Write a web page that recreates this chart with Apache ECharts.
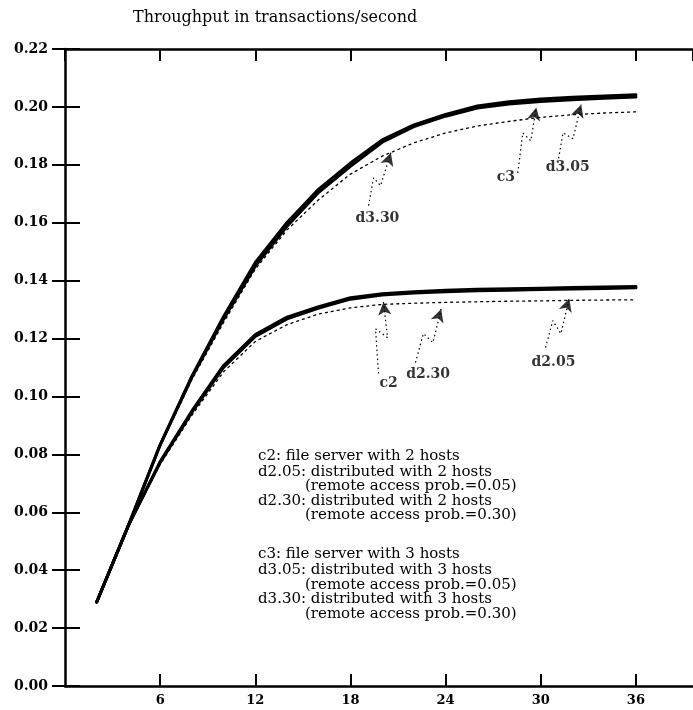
<!DOCTYPE html>
<html><head><meta charset="utf-8">
<script src="https://cdn.jsdelivr.net/npm/echarts@6/dist/echarts.min.js"></script>
<style>html,body{margin:0;padding:0;background:#fff}#c{width:693px;height:710px}</style>
</head><body><div id="c"></div>
<script>
// ---- data ----
const xValues = [2,4,6,8,10,12,14,16,18,20,22,24,26,28,30,32,34,36];
const c3    = [0.029,0.0555,0.0832,0.1066,0.1267,0.1450,0.1588,0.1705,0.1795,0.1878,0.1932,0.1968,0.1996,0.2010,0.2019,0.2025,0.2030,0.2034];
const d3_05 = [0.029,0.0555,0.0834,0.1070,0.1276,0.1463,0.1601,0.1716,0.1806,0.1886,0.1938,0.1974,0.2003,0.2018,0.2027,0.2033,0.2038,0.2042];
const d3_30 = [0.029,0.0553,0.0828,0.1058,0.1255,0.1440,0.1575,0.1680,0.1768,0.1830,0.1876,0.1910,0.1934,0.1950,0.1964,0.1973,0.1979,0.1983];
const c2    = [0.029,0.0555,0.0775,0.0950,0.1107,0.1214,0.1274,0.1310,0.1341,0.1355,0.1362,0.1367,0.1370,0.1372,0.1374,0.1376,0.1378,0.1380];
const d2_05 = [0.029,0.0555,0.0772,0.0945,0.1100,0.1207,0.1268,0.1305,0.1336,0.1350,0.1357,0.1362,0.1365,0.1367,0.1369,0.1371,0.1373,0.1375];
const d2_30 = [0.029,0.0553,0.0765,0.0935,0.1085,0.1190,0.1248,0.1285,0.1306,0.1318,0.1322,0.1325,0.1327,0.1329,0.1330,0.1332,0.1333,0.1334];

const xTickLabels = ['6','12','18','24','30','36'];
const yTickLabels = ['0.00','0.02','0.04','0.06','0.08','0.10','0.12','0.14','0.16','0.18','0.20','0.22'];

const titleText = 'Throughput in transactions/second';

// callout labels and leader paths (data coordinates)
const calloutNames = ['d3.30','c3','d3.05','c2','d2.30','d2.05'];
const calloutLabelPos = [[19.7,0.1614],[27.8,0.1755],[31.7,0.1790],[20.4,0.1045],[22.9,0.1076],[30.8,0.1117]];
const leaderD3_30 = [[19.14,0.1659],[19.46,0.1755],[19.90,0.1728],[20.55,0.1842]];
const leaderC3    = [[28.55,0.1772],[28.87,0.1910],[29.37,0.1883],[29.72,0.1998]];
const leaderD3_05 = [[31.08,0.1807],[31.40,0.1910],[32.03,0.1890],[32.55,0.2008]];
const leaderC2    = [[19.77,0.1079],[19.58,0.1234],[20.34,0.1203],[20.08,0.1326]];
const leaderD2_30 = [[22.10,0.1117],[22.60,0.1217],[23.20,0.1186],[23.72,0.1302]];
const leaderD2_05 = [[30.30,0.1169],[30.76,0.1262],[31.27,0.1217],[31.80,0.1338]];

const legendLines = [
  'c2: file server with 2 hosts',
  'd2.05: distributed with 2 hosts',
  '(remote access prob.=0.05)',
  'd2.30: distributed with 2 hosts',
  '(remote access prob.=0.30)',
  'c3: file server with 3 hosts',
  'd3.05: distributed with 3 hosts',
  '(remote access prob.=0.05)',
  'd3.30: distributed with 3 hosts',
  '(remote access prob.=0.30)'
];

// ---- chart ----
const FONT = 'DejaVu Serif';
const chart = echarts.init(document.getElementById('c'), null, {renderer: 'canvas'});
const pairs = ys => xValues.map((x, i) => [x, ys[i]]);

const curves = [
  {name: 'c3', ys: c3, w: 3, dash: 'solid'},
  {name: 'd3.05', ys: d3_05, w: 3, dash: 'solid'},
  {name: 'd3.30', ys: d3_30, w: 1.3, dash: [2, 4]},
  {name: 'c2', ys: c2, w: 3, dash: 'solid'},
  {name: 'd2.05', ys: d2_05, w: 3, dash: 'solid'},
  {name: 'd2.30', ys: d2_30, w: 1.3, dash: [2, 4]}
];
const leaders = [leaderD3_30, leaderC3, leaderD3_05, leaderC2, leaderD2_30, leaderD2_05];
const arrowTilt = [-18, -12, -18, 6, -18, -18];

const series = [];
curves.forEach(c => series.push({
  type: 'line', name: c.name, data: pairs(c.ys), symbol: 'none', silent: true,
  lineStyle: {color: '#000', width: c.w, type: c.dash, cap: 'round', join: 'round'}, z: 3
}));
leaders.forEach(l => series.push({
  type: 'line', data: l, symbol: 'none', silent: true,
  lineStyle: {color: '#000', width: 1.2, type: [1.5, 3]}, z: 4
}));
series.push({
  type: 'scatter', silent: true, z: 5,
  data: leaders.map((l, i) => ({value: l[l.length - 1], symbolRotate: arrowTilt[i]})),
  symbol: 'arrow', symbolSize: [10, 13], itemStyle: {color: '#000'}
});
series.push({
  type: 'scatter', silent: true, z: 6,
  data: calloutLabelPos.map((p, i) => ({value: p, name: calloutNames[i]})),
  symbolSize: 1, itemStyle: {color: 'rgba(0,0,0,0)'},
  label: {show: true, position: 'inside', formatter: p => p.name, color: '#000',
          fontFamily: FONT, fontWeight: 'bold', fontSize: 14}
});

const legendX = [258,258,305,258,305,258,258,305,258,305];
const legendY = [458,474,488,503,517,556,572,587,601,616];
const graphic = [{
  type: 'text', left: 133, top: 10,
  style: {text: titleText, font: '16px "DejaVu Serif"', fill: '#000'}
}];
legendLines.forEach((t, i) => graphic.push({
  type: 'text', left: legendX[i], top: legendY[i] - 9,
  style: {text: t, font: '15px "DejaVu Serif"', fill: '#000'}
}));

const axisLine = {show: true, onZero: false, lineStyle: {color: '#000', width: 2.5}};
chart.setOption({
  animation: false,
  backgroundColor: '#fff',
  grid: {left: 65, right: 0, top: 49, bottom: 24, containLabel: false},
  xAxis: [{
    type: 'value', position: 'bottom', min: 0, max: 39.6, interval: 6,
    axisLine: axisLine,
    axisTick: {inside: true, length: 12, lineStyle: {color: '#000', width: 2}},
    splitLine: {show: false},
    axisLabel: {margin: 8, color: '#000', fontFamily: FONT, fontWeight: 'bold', fontSize: 13,
      showMinLabel: false, showMaxLabel: false,
      formatter: v => { const k = Math.round(v / 6) - 1; return (v % 6 === 0 && k >= 0 && k < xTickLabels.length) ? xTickLabels[k] : ''; }}
  }, {
    type: 'value', position: 'top', min: 0, max: 39.6, interval: 6,
    axisLine: axisLine,
    axisTick: {inside: true, length: 12, lineStyle: {color: '#000', width: 2}},
    splitLine: {show: false}, axisLabel: {show: false}
  }],
  yAxis: [{
    type: 'value', position: 'left', min: 0, max: 0.22, interval: 0.02,
    axisLine: axisLine,
    axisTick: {inside: true, length: 15, lineStyle: {color: '#000', width: 2}},
    splitLine: {show: false},
    axisLabel: {margin: 17, color: '#000', fontFamily: FONT, fontWeight: 'bold', fontSize: 14,
      formatter: v => yTickLabels[Math.round(v / 0.02)]}
  }, {
    type: 'value', position: 'right', min: 0, max: 0.22, interval: 0.02,
    axisLine: {show: false},
    axisTick: {inside: true, length: 13, lineStyle: {color: '#000', width: 2}},
    splitLine: {show: false}, axisLabel: {show: false}
  }],
  graphic: graphic,
  series: series
});
</script></body></html>
